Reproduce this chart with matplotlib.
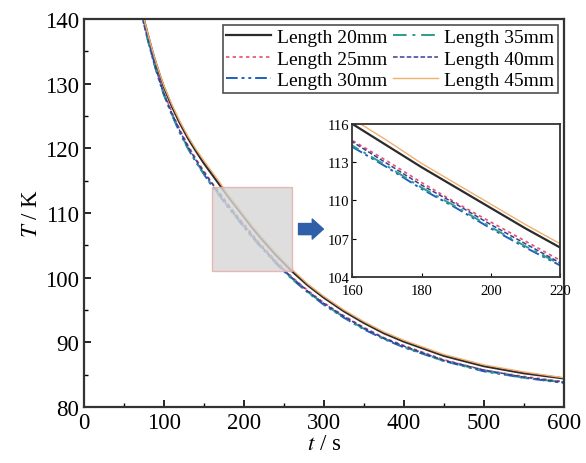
import matplotlib.pyplot as plt
from matplotlib.patches import Rectangle
from matplotlib.ticker import MultipleLocator

plt.rcParams['font.family'] = ['Liberation Serif', 'DejaVu Serif']
plt.rcParams['mathtext.fontset'] = 'stix'

# time points (s)
t = [70, 75, 80, 85, 90, 95, 100, 110, 120, 130, 140, 150, 160, 170, 180, 190,
     200, 210, 220, 240, 260, 280, 300, 325, 350, 375, 400, 450, 500, 550, 600]

# temperature (K) for each length
T_20 = [142.6, 140.0, 137.6, 135.3, 133.2, 131.3, 129.5, 126.5, 123.9, 121.6,
        119.6, 117.7, 116.0, 114.3, 112.6, 111.0, 109.4, 107.8, 106.3, 103.5,
        101.0, 98.8, 96.9, 94.8, 93.0, 91.4, 90.1, 87.9, 86.3, 85.2, 84.4]
T_25 = [142.2, 139.5, 137.0, 134.7, 132.5, 130.5, 128.7, 125.6, 122.9, 120.5,
        118.4, 116.5, 114.7, 113.1, 111.4, 109.8, 108.3, 106.8, 105.3, 102.6,
        100.1, 98.0, 96.1, 94.1, 92.3, 90.7, 89.5, 87.3, 85.7, 84.7, 83.9]
T_30 = [142.0, 139.3, 136.8, 134.4, 132.2, 130.2, 128.3, 125.2, 122.4, 120.0,
        117.9, 116.0, 114.2, 112.6, 110.9, 109.4, 107.8, 106.3, 104.9, 102.2,
        99.8, 97.7, 95.8, 93.8, 92.0, 90.5, 89.2, 87.1, 85.5, 84.5, 83.7]
T_35 = [142.0, 139.3, 136.8, 134.4, 132.3, 130.3, 128.4, 125.3, 122.5, 120.1,
        118.0, 116.1, 114.3, 112.7, 111.0, 109.5, 107.9, 106.4, 105.0, 102.3,
        99.9, 97.8, 95.9, 93.9, 92.1, 90.6, 89.3, 87.1, 85.6, 84.5, 83.8]
T_40 = [142.1, 139.4, 137.0, 134.6, 132.4, 130.4, 128.5, 125.4, 122.7, 120.3,
        118.2, 116.3, 114.6, 112.9, 111.2, 109.7, 108.1, 106.6, 105.1, 102.4,
        100.0, 97.9, 96.0, 94.0, 92.2, 90.6, 89.4, 87.2, 85.7, 84.6, 83.8]
T_45 = [142.7, 140.1, 137.8, 135.5, 133.4, 131.5, 129.7, 126.8, 124.2, 121.9,
        119.9, 118.1, 116.4, 114.7, 112.9, 111.3, 109.7, 108.1, 106.6, 103.8,
        101.3, 99.0, 97.1, 95.0, 93.2, 91.6, 90.3, 88.1, 86.5, 85.4, 84.5]

labels = ['Length 20mm', 'Length 25mm', 'Length 30mm',
          'Length 35mm', 'Length 40mm', 'Length 45mm']
series = [T_20, T_25, T_30, T_35, T_40, T_45]
colors = ['#2b2b2b', '#e8506a', '#1f5fbf', '#2a9d8f', '#3c3c96', '#f0b070']
styles = ['-', (0, (2, 2)), (0, (6, 2, 1.5, 2, 1.5, 2)), (0, (7, 3, 1.5, 3)),
          (0, (3, 1.5)), '-']
widths = [1.6, 1.2, 1.4, 1.4, 1.1, 1.0]

fig = plt.figure(figsize=(5.86, 4.64), dpi=100)
ax = fig.add_axes([0.143, 0.121, 0.819, 0.836])

for y, c, ls, lw, lab in zip(series, colors, styles, widths, labels):
    ax.plot(t, y, color=c, linestyle=ls, linewidth=lw, label=lab)

ax.set_xlim(0, 600)
ax.set_ylim(80, 140)
ax.xaxis.set_major_locator(MultipleLocator(100))
ax.xaxis.set_minor_locator(MultipleLocator(50))
ax.yaxis.set_major_locator(MultipleLocator(10))
ax.yaxis.set_minor_locator(MultipleLocator(5))
ax.tick_params(which='both', direction='in', labelsize=16.5)
ax.tick_params(which='major', length=5, width=1.2)
ax.tick_params(which='minor', length=3, width=1.0)
for s in ax.spines.values():
    s.set_linewidth(1.6)
    s.set_color('#333333')
ax.set_xlabel('$t$ / s', fontsize=16.5, labelpad=0)
ax.set_ylabel('$T$ / K', fontsize=16.5, labelpad=2)

leg = ax.legend(ncol=2, loc='upper right', fontsize=14, frameon=True,
                fancybox=False, edgecolor='#222222', handlelength=2.3,
                columnspacing=0.3, handletextpad=0.3, borderpad=0.2,
                labelspacing=0.2, borderaxespad=0.3)
leg.get_frame().set_linewidth(1.2)

# zoomed region marker
ax.add_patch(Rectangle((160, 101), 100, 13, facecolor='#d6d6d6',
                       edgecolor='#e8a8a8', linewidth=1.0, alpha=0.8, zorder=3))
ax.annotate('', xy=(303, 107.5), xytext=(265, 107.5),
            arrowprops=dict(arrowstyle='simple,head_length=0.5,head_width=0.9,tail_width=0.5',
                            color='#2e5fa8', mutation_scale=16), zorder=4)

# inset
axin = fig.add_axes([0.601, 0.401, 0.355, 0.330])
for y, c, ls, lw in zip(series, colors, styles, widths):
    axin.plot(t, y, color=c, linestyle=ls, linewidth=lw)
axin.set_xlim(160, 220)
axin.set_ylim(104, 116)
axin.set_xticks([160, 180, 200, 220])
axin.set_yticks([104, 107, 110, 113, 116])
axin.tick_params(direction='in', labelsize=10.5, length=3, pad=2)
axin.tick_params(axis='x', pad=5)
for s in axin.spines.values():
    s.set_linewidth(1.3)
    s.set_color('#333333')

fig.savefig('out.png', dpi=100)
